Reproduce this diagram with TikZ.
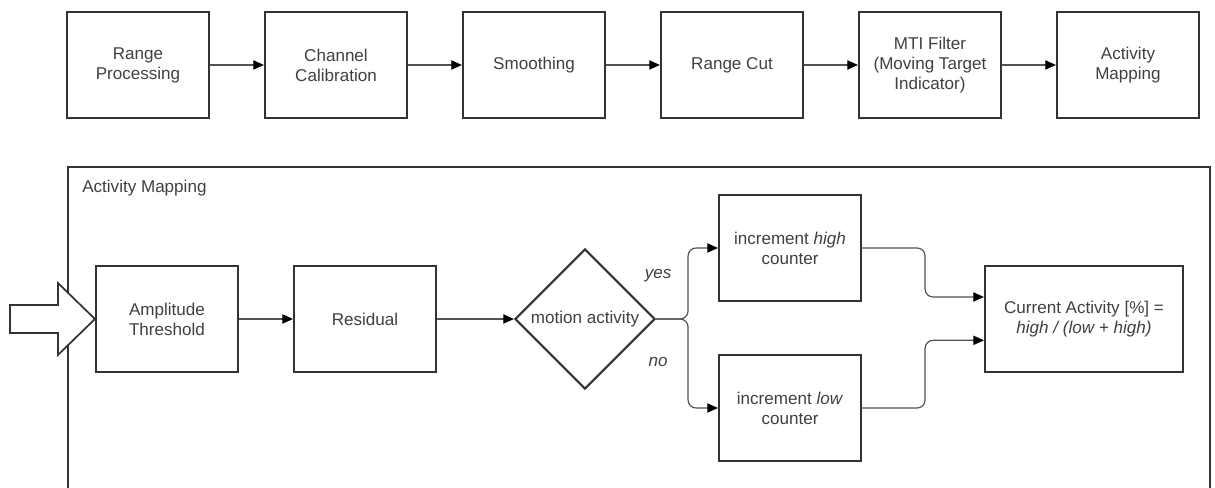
\documentclass[tikz,border=0pt]{standalone}
\usepackage{fontspec}
\setmainfont{Liberation Sans}
\usetikzlibrary{positioning,shapes.geometric,arrows.meta}
\definecolor{boxline}{HTML}{333333}
\definecolor{boxtext}{HTML}{404040}

\begin{document}
\begin{tikzpicture}[
        block/.style={draw=boxline, line width=1.6pt, minimum width=106.5pt, minimum height=79.5pt,
            align=center, text=boxtext, font=\fontsize{12.8}{15}\selectfont},
        decision/.style={diamond, aspect=1, draw=boxline, line width=1.6pt, minimum size=105pt,
            inner sep=0pt, text=boxtext, font=\fontsize{12.8}{15}\selectfont},
        flow/.style={draw=boxline!85, line width=0.9pt, rounded corners=6pt,
            -{Triangle[length=8pt, width=7pt, color=black]}},
        branch/.style={text=boxtext, font=\fontsize{12.8}{15}\selectfont\itshape}
    ]
        \useasboundingbox (0,0) rectangle (911.25pt,-366pt);

        % processing chain
        \node[block] (rp) at (103.5pt,-48.75pt) {Range\\Processing};
        \node[block, right=40.4pt of rp] (cc) {Channel\\Calibration};
        \node[block, right=40.4pt of cc] (sm) {Smoothing};
        \node[block, right=40.4pt of sm] (rc) {Range Cut};
        \node[block, right=40.4pt of rc] (mti) {MTI Filter\\(Moving Target\\Indicator)};
        \node[block, right=40.4pt of mti] (am) {Activity\\Mapping};
        \foreach \a/\b in {rp/cc, cc/sm, sm/rc, rc/mti, mti/am}
            \draw[flow] (\a) -- (\b);

        % activity mapping detail
        \coordinate (frame) at (51pt,-125.25pt);
        \draw[boxline, line width=1.4pt] (51pt,-372pt) -- (frame) -| (907.5pt,-372pt);
        \node[anchor=west, inner sep=0pt, text=boxtext, font=\fontsize{12.8}{15}\selectfont] (maptitle)
            at ([xshift=10.5pt, yshift=-15.75pt]frame) {Activity Mapping};

        \node[block] (amp) at (125.25pt,-239.25pt) {Amplitude\\Threshold};
        \node[block, right=40.4pt of amp] (res) {Residual};
        \node[decision, right=57.65pt of res] (dia) {motion activity};
        \node[block, right=46.4pt of dia, yshift=53.25pt] (high) {increment \textit{high}\\counter};
        \node[block, right=46.4pt of dia, yshift=-66.75pt] (low) {increment \textit{low}\\counter};
        \node[block, minimum width=148.5pt] (cur) at (813pt,-239.25pt)
            {Current Activity [\%] =\\\textit{high / (low + high)}};

        \draw[flow] (amp) -- (res);
        \draw[flow] (res) -- (dia);
        \draw[flow] (dia.east) -- ++(24pt,0) |- (high.west);
        \draw[flow] (dia.east) -- ++(24pt,0) |- (low.west);
        \draw[flow] (high.east) -- ++(47.25pt,0) |- ([yshift=16.5pt]cur.west);
        \draw[flow] (low.east) -- ++(47.25pt,0) |- ([yshift=-16pt]cur.west);

        \node[branch] (yes) at ([xshift=1.5pt, yshift=32.25pt]dia.east) {yes};
        \node[branch] (no) at ([xshift=1.5pt, yshift=-32.25pt]dia.east) {no};

        % input arrow
        \draw[boxline, line width=1.3pt, fill=white] (amp.west) -- ++(-27.75pt,27pt) -- ++(0,-16.5pt)
            -- ++(-36pt,0) -- ++(0,-21pt) -- ++(36pt,0) -- ++(0,-16.5pt) -- cycle;
\end{tikzpicture}
\end{document}
